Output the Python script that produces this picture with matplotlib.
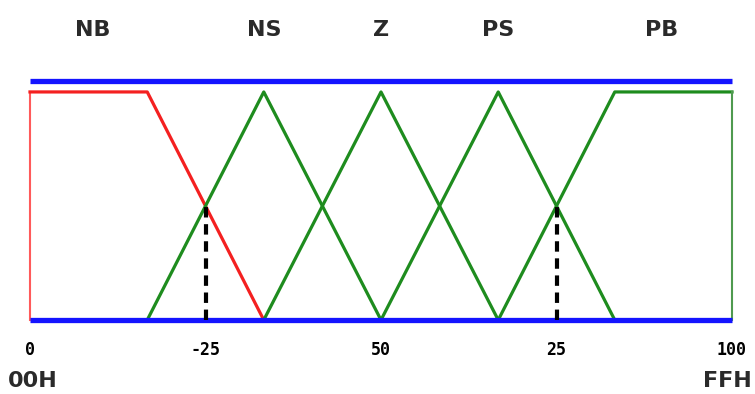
import matplotlib.pyplot as plt

# membership functions (x in 0..100, y membership 0..1)
nb_x = [0, 0, 16.7, 33.3]
nb_y = [0, 1, 1, 0]
ns_x = [16.7, 33.3, 50]
z_x = [33.3, 50, 66.7]
ps_x = [50, 66.7, 83.3]
tri_y = [0, 1, 0]
pb_x = [66.7, 83.3, 100, 100]
pb_y = [0, 1, 1, 0]

set_names = ['NB', 'NS', 'Z', 'PS', 'PB']
set_pos = [9, 33.3, 50, 66.7, 90]

cut_x = [25, 75]
cut_y = [0.5, 0.5]

tick_pos = [0, 25, 50, 75, 100]
tick_labels = ['0', '-25', '50', '25', '100']

narrow = ['DejaVu Sans']
mono = ['DejaVu Sans Mono']

fig = plt.figure(figsize=(7.55, 3.94), dpi=100)
# axes placed so that 0..100 maps to the drawn frame
ax = fig.add_axes([30 / 755, 1 - 320 / 394, 702 / 755, 239 / 394])
ax.set_xlim(0, 100)
ax.set_ylim(0, 1.048)
ax.axis('off')

red = '#f42020'
green = '#1e8c1e'
blue = '#1414ff'

# blue frame lines top and bottom
ax.plot([0, 100], [1.048, 1.048], color=blue, lw=3.8, clip_on=False, solid_capstyle='butt', zorder=3)
ax.plot([0, 100], [0, 0], color=blue, lw=3.8, clip_on=False, solid_capstyle='butt', zorder=3)

ax.plot(nb_x[:2], nb_y[:2], color='#ff5a5a', lw=1.5, clip_on=False)
ax.plot(nb_x[1:], nb_y[1:], color=red, lw=2.3, clip_on=False)
for xs in [ns_x, z_x, ps_x]:
    ax.plot(xs, tri_y, color=green, lw=2.3, clip_on=False)
ax.plot(pb_x[:3], pb_y[:3], color=green, lw=2.3, clip_on=False)
ax.plot(pb_x[2:], pb_y[2:], color='#4f9a4f', lw=1.5, clip_on=False)

# dashed cut lines
for cx, cy in zip(cut_x, cut_y):
    ax.plot([cx, cx], [0, cy], color='black', lw=3, linestyle=(0, (2.5, 1.6)), clip_on=False, zorder=4)

# set names on top
for name, p in zip(set_names, set_pos):
    ax.text(p, 1.27, name, ha='center', va='center', fontsize=16, fontweight='bold',
            family=narrow, color='#2a2a2a', clip_on=False)

# x tick labels
for p, lab in zip(tick_pos, tick_labels):
    ax.text(p, -0.13, lab, ha='center', va='center', fontsize=12, fontweight='bold',
            family=mono, color='black', clip_on=False)

fig.text(8 / 755, 1 - 381 / 394, '00H', ha='left', va='center', fontsize=16,
         family=narrow, fontweight='bold', color='#2a2a2a')
fig.text(752 / 755, 1 - 381 / 394, 'FFH', ha='right', va='center', fontsize=16,
         family=narrow, fontweight='bold', color='#2a2a2a')

fig.savefig('out.png', dpi=100)
